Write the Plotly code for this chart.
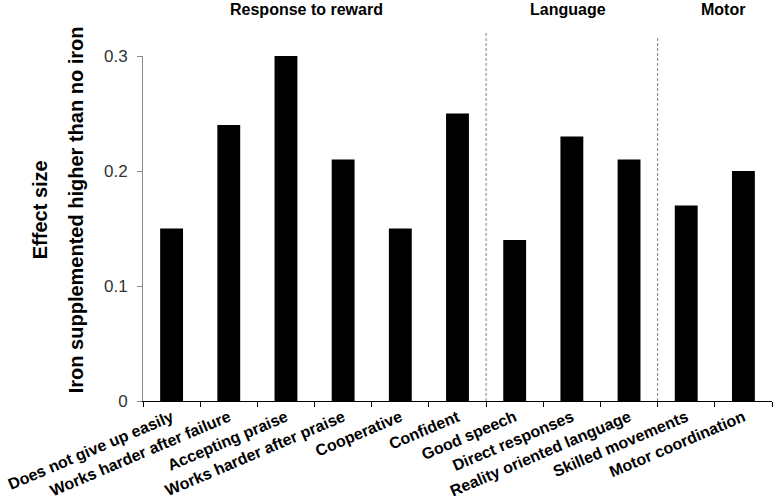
import plotly.graph_objects as go

# Data
categories = [
    "Does not give up easily", "Works harder after failure", "Accepting praise",
    "Works harder after praise", "Cooperative", "Confident",
    "Good speech", "Direct responses", "Reality oriented language",
    "Skilled movements", "Motor coordination",
]
effect_size = [0.15, 0.24, 0.30, 0.21, 0.15, 0.25, 0.14, 0.23, 0.21, 0.17, 0.20]

groups = ["Response to reward", "Language", "Motor"]
group_sizes = [6, 3, 2]

y_ticks = [0, 0.1, 0.2, 0.3]
y_ticktext = ["0", "0.1", "0.2", "0.3"]

FONT = "Arial, Liberation Sans, sans-serif"

# header nudges / separator heights (layout only)
_HEADER_NUDGE = [-0.14, -0.07, 0.14]
_SEP_TOP = [1.07, 1.055]

fig = go.Figure(
    go.Bar(
        x=categories,
        y=effect_size,
        width=0.4,
        marker=dict(color="#000000", line=dict(width=0)),
    )
)

# dashed separators between groups + group headers
shapes = []
annotations = []
start = 0
for i, (name, n) in enumerate(zip(groups, group_sizes)):
    end = start + n
    if i < len(groups) - 1:
        shapes.append(dict(
            type="line", xref="x", yref="paper",
            x0=end - 0.5, x1=end - 0.5, y0=0, y1=_SEP_TOP[i],
            line=dict(color="#808080", width=1, dash="3px,2px"),
        ))
    annotations.append(dict(
        text=f"<b>{name}</b>", xref="x", yref="paper",
        x=(start + end - 1) / 2 + _HEADER_NUDGE[i], y=1.135,
        showarrow=False, xanchor="center", yanchor="middle",
        font=dict(size=16, color="#000000", family=FONT),
    ))
    start = end

annotations += [
    dict(text="<b>Effect size</b>", xref="paper", yref="paper", x=0, y=0.553,
         xshift=-116, textangle=-90, showarrow=False,
         font=dict(size=20, color="#000000", family=FONT)),
    dict(text="<b>Iron supplemented higher than no iron</b>", xref="paper", yref="paper",
         x=0, y=0.553, xshift=-80, textangle=-90, showarrow=False,
         font=dict(size=20, color="#000000", family=FONT)),
]

fig.update_layout(
    width=775, height=504,
    paper_bgcolor="white", plot_bgcolor="white",
    margin=dict(l=143, r=3, t=56, b=103),
    font=dict(family=FONT, color="#000000"),
    showlegend=False,
    shapes=shapes,
    annotations=annotations,
    xaxis=dict(
        type="category",
        tickangle=-23,
        tickfont=dict(size=16, color="#000000", family=FONT),
        tickprefix="<b>", ticksuffix="</b>",
        showline=True, linecolor="#000000", linewidth=1,
        ticks="outside", ticklen=5, tickcolor="#000000",
        tickson="boundaries",
        showgrid=False, zeroline=False,
        range=[-0.5, len(categories) - 0.5],
        automargin=False,
    ),
    yaxis=dict(
        range=[0, 0.3],
        tickvals=y_ticks, ticktext=y_ticktext,
        tickfont=dict(size=17, color="#333333", family=FONT),
        showline=True, linecolor="#888888", linewidth=1,
        ticks="outside", ticklen=5, tickcolor="#888888",
        ticklabelstandoff=6,
        showgrid=False, zeroline=False,
        automargin=False,
    ),
)

# drop the browser's default 8px body margin so the figure fills the window
fig.write_html(
    "out.html",
    config={"displayModeBar": False},
    post_script="document.body.style.margin = '0';",
)
